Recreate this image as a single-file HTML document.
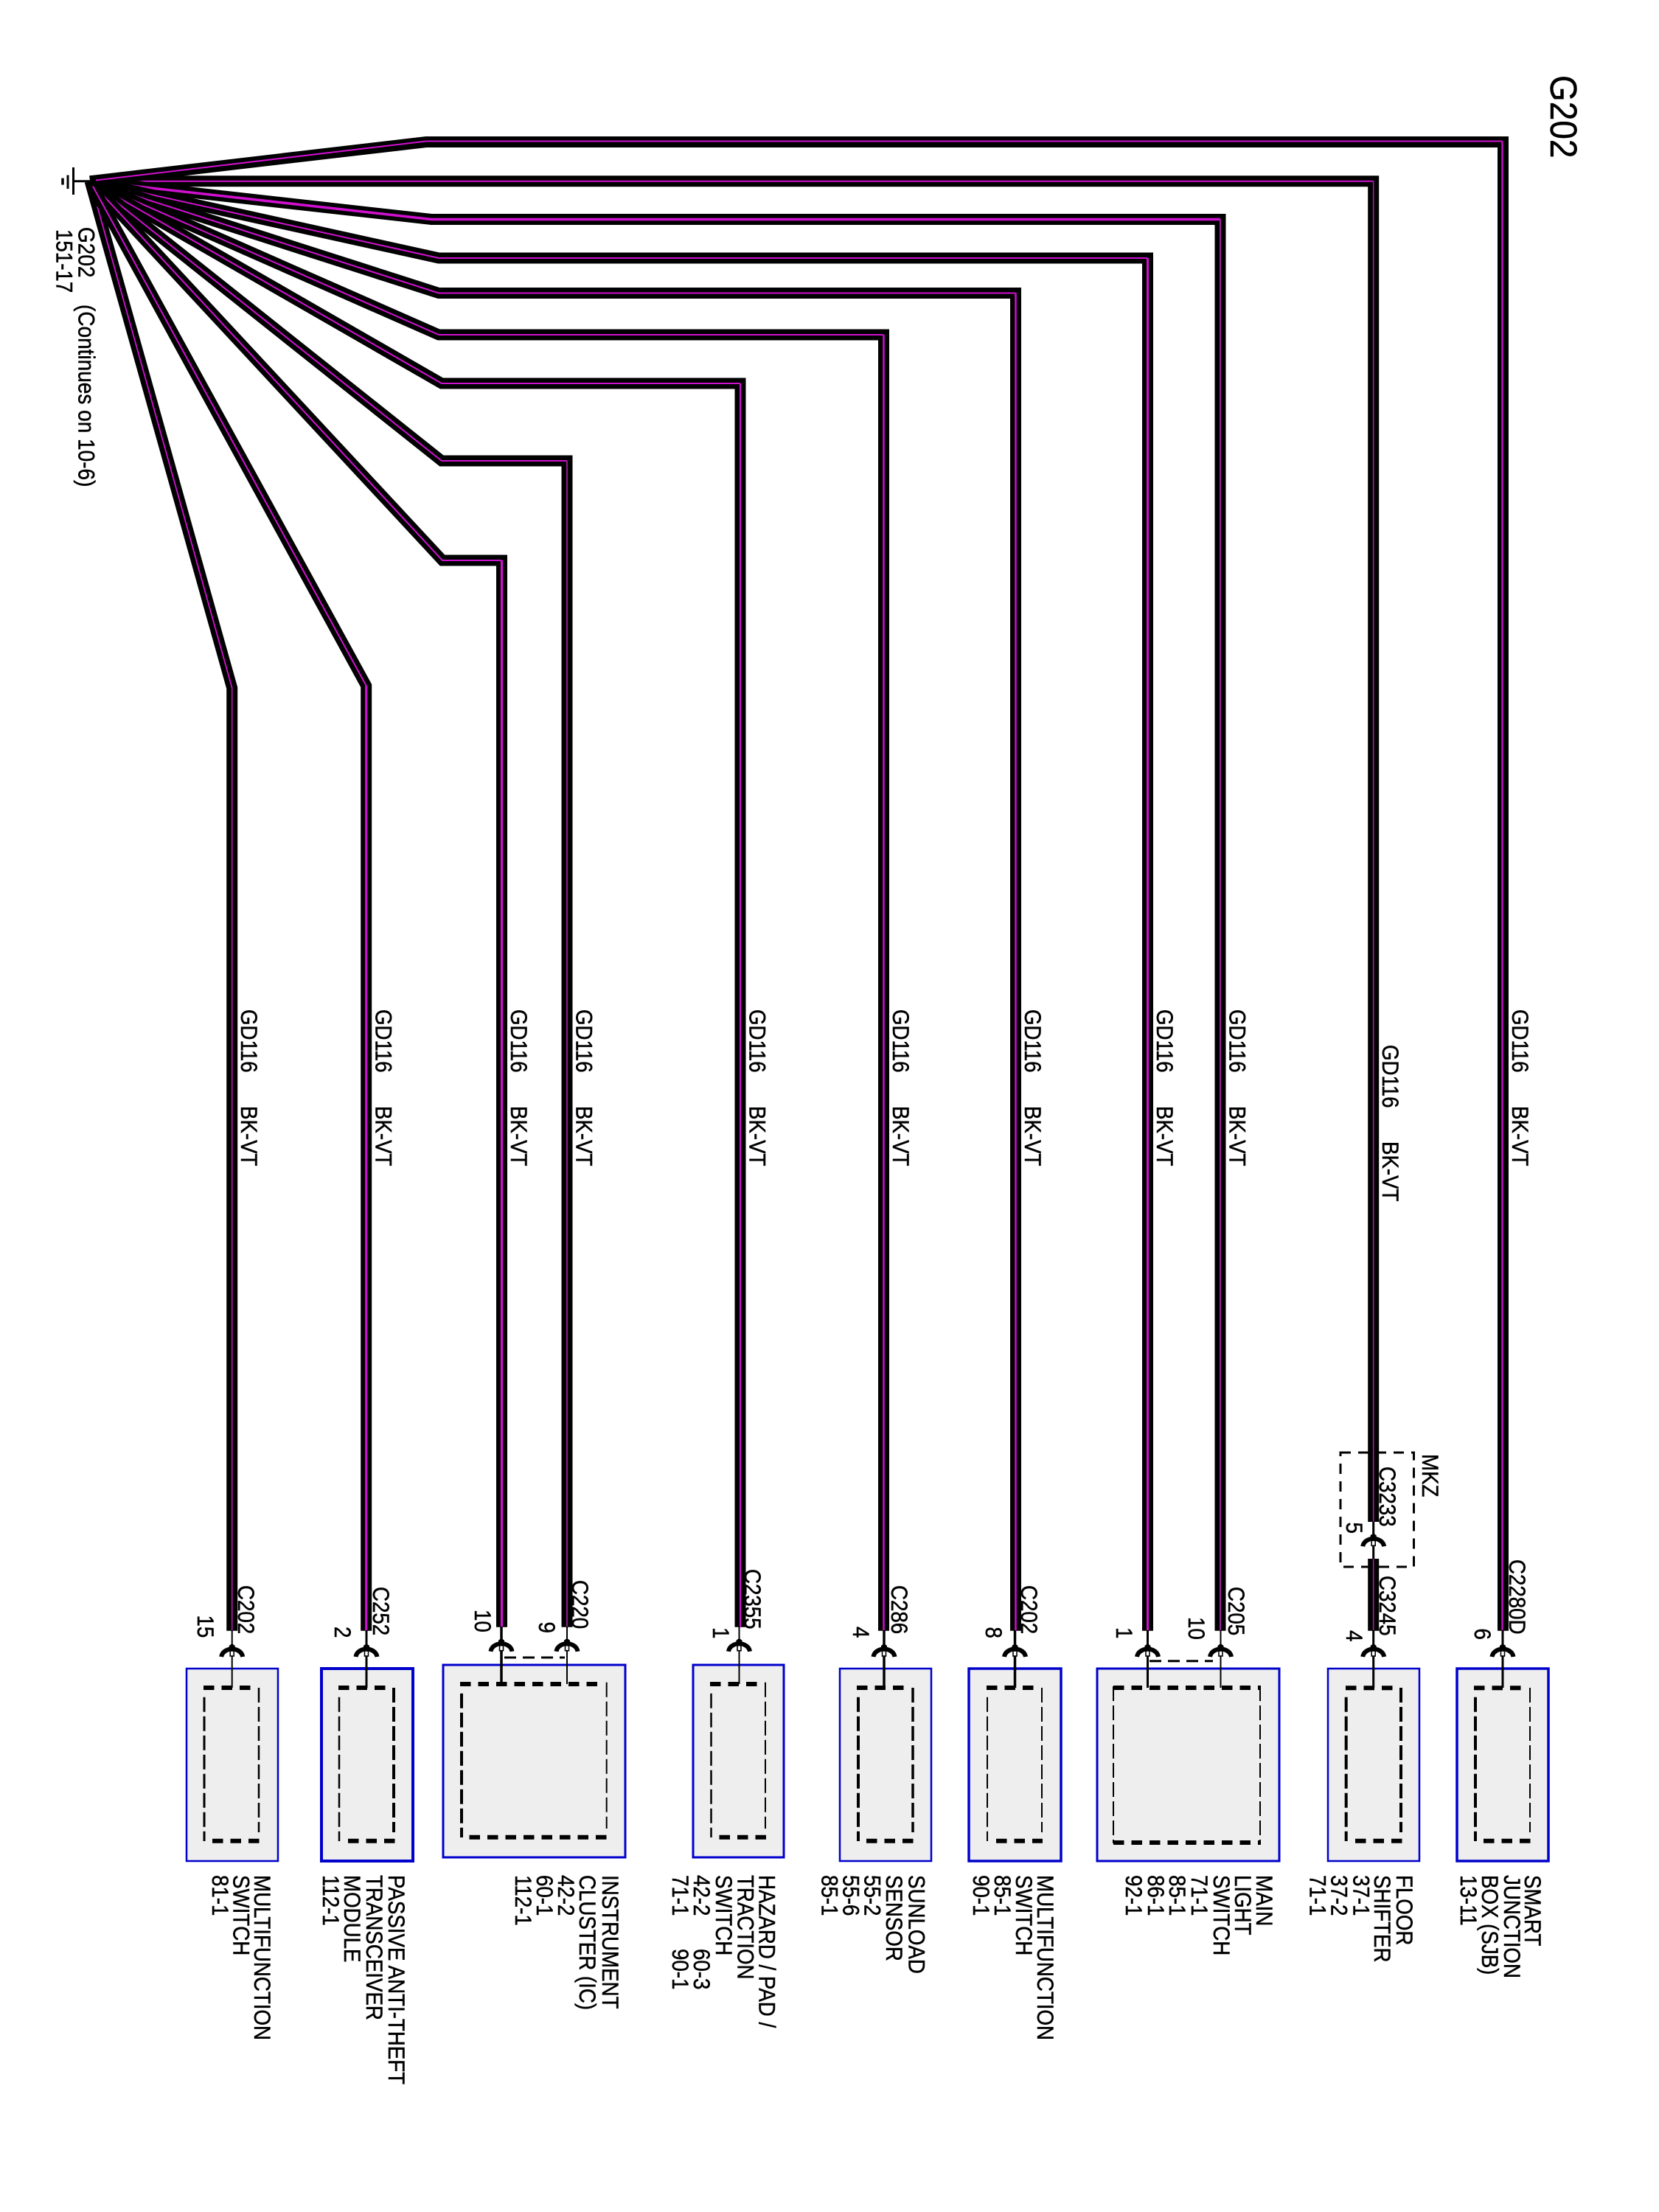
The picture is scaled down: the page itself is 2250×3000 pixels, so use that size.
<!DOCTYPE html>
<html>
<head>
<meta charset="utf-8">
<style>
html,body{margin:0;padding:0;background:#fff;width:2250px;height:3000px;overflow:hidden}
svg{display:block}
text{font-family:"Liberation Sans",Arial,sans-serif;font-size:27.7px;fill:#000;stroke:#000;stroke-width:.45px}
.w{fill:none;stroke:#000;stroke-width:15;stroke-linejoin:miter;stroke-miterlimit:10}
.m{fill:none;stroke:#d010d0;stroke-linejoin:miter;stroke-miterlimit:10}
.b{fill:#eee;stroke:#0000cc}
.h{stroke:#000;stroke-width:6;stroke-dasharray:14.5 10;fill:none}
.v{stroke:#000;stroke-dasharray:20 6;fill:none}
.l{stroke:#000;fill:none}
.d{stroke:#000;stroke-width:3;stroke-dasharray:16 9;fill:none}
</style>
</head>
<body>
<svg width="2250" height="3000" viewBox="0 0 2250 3000" xmlns="http://www.w3.org/2000/svg">
<defs>
<g id="sym">
<path d="M-4 3L0 0L4 3V10H-4Z" fill="#000"/>
<path d="M-14.5 18Q-13 9 0 7Q13 9 14.5 18" fill="none" stroke="#000" stroke-width="6"/>
<rect x="-2.5" y="10" width="5" height="7" fill="#fff" stroke="#000" stroke-width="1.6"/>
</g>
</defs>

<!-- ground -->
<path d="M99 245.7H122" stroke="#000" stroke-width="3" fill="none"/>
<path d="M99.5 227V264" stroke="#000" stroke-width="3" fill="none"/>
<path d="M92 237.5V256" stroke="#000" stroke-width="3" fill="none"/>
<path d="M85 241.6V250.6" stroke="#000" stroke-width="3.5" fill="none"/>

<!-- boxes -->
<rect class="b" x="253" y="2263" width="124" height="261" stroke-width="2.5"/>
<rect class="b" x="436" y="2263" width="124" height="261" stroke-width="4"/>
<rect class="b" x="601" y="2258" width="247" height="261" stroke-width="3"/>
<rect class="b" x="940" y="2258" width="123" height="261" stroke-width="3"/>
<rect class="b" x="1139" y="2263" width="124" height="261" stroke-width="2.5"/>
<rect class="b" x="1314" y="2263" width="125" height="261" stroke-width="3.5"/>
<rect class="b" x="1488" y="2263" width="247" height="261" stroke-width="3"/>
<rect class="b" x="1801" y="2263" width="124" height="261" stroke-width="2.5"/>
<rect class="b" x="1976" y="2263" width="124" height="261" stroke-width="3.5"/>

<!-- inner dashed rects -->
<path class="h" d="M276 2289H340M288 2496.7H352"/>
<path class="v" stroke-width="3" d="M277 2301.7V2497"/><path class="v" stroke-width="2.5" d="M351 2289V2485"/>

<path class="h" d="M459 2289H524M472 2496.7H536"/>
<path class="v" stroke-width="2.5" d="M460 2301.7V2497"/><path class="v" stroke-width="4" d="M534 2289V2485"/>

<path class="h" d="M624 2284H812M636.5 2491.7H824"/>
<path class="v" stroke-width="4" d="M626 2296.7V2492"/><path class="v" stroke-width="2" d="M822.7 2281.7V2480"/>

<path class="h" d="M963 2284H1027M975.5 2491.7H1039.5"/>
<path class="v" stroke-width="2.5" d="M964.5 2296.7V2492"/><path class="v" stroke-width="2" d="M1038 2281.7V2480"/>

<path class="h" d="M1162 2289H1227M1175 2496.7H1239"/>
<path class="v" stroke-width="4" d="M1164 2301.7V2497"/><path class="v" stroke-width="3.5" d="M1238 2289V2485"/>

<path class="h" d="M1338 2289H1403M1351 2496.7H1414"/>
<path class="v" stroke-width="2" d="M1339 2301.7V2497"/><path class="v" stroke-width="2" d="M1413 2289V2485"/>

<path class="h" d="M1510 2289H1710M1510 2499H1710"/>
<path class="v" stroke-width="2" d="M1510 2287V2500"/><path class="v" stroke-width="2" d="M1709 2287V2500"/>

<path class="h" d="M1825 2289.3H1889M1838 2496.7H1902"/>
<path class="v" stroke-width="4" d="M1825.7 2301.7V2497"/><path class="v" stroke-width="4" d="M1900 2289V2485"/>

<path class="h" d="M1999 2289.3H2063M2012 2496.7H2076"/>
<path class="v" stroke-width="4" d="M2001 2301.7V2497"/><path class="v" stroke-width="2" d="M2075 2289V2485"/>

<!-- wires, in stacking order -->
<path class="w" d="M122 245.7H1862.7V2064"/>
<path class="m" stroke-width="2" d="M189 245.7H1862.7"/><path class="m" stroke-width="1.6" style="stroke:#a01fa0" d="M1862.7 245.7V2064"/>
<path class="w" d="M1862.7 2114V2211.7"/><path class="m" stroke-width="1.6" style="stroke:#a01fa0" d="M1862.7 2114V2211.7"/>

<path class="w" d="M122 245.7L585 297.5H1655V2211.7"/>
<path class="m" stroke-width="3.5" d="M178 252L585 297.5H1655"/><path class="m" stroke-width="2" style="stroke:#a01fa0" d="M1655 297.5V2211.7"/>

<path class="w" d="M122 245.7L595 350H1556.5V2211.7"/>
<path class="m" stroke-width="2" d="M160 254L595 350H1556.5"/><path class="m" stroke-width="3" d="M1556.5 350V2211.7"/>

<path class="w" d="M122 245.7L595 397.5H1377.5V2211.7"/>
<path class="m" stroke-width="2" d="M135 250L595 397.5H1377.5"/><path class="m" stroke-width="2.5" d="M1377.5 397.5V2211.7"/>

<path class="w" d="M122 245.7L314.7 933V2211.7"/>
<path class="m" stroke-width="1.8" d="M132 280L314.7 933"/><path class="m" stroke-width="1.8" style="stroke:#a01fa0" d="M314.7 933V2211.7"/>

<path class="w" d="M122 245.7L595 454H1198.5V2211.7"/>
<path class="m" stroke-width="2" d="M125 247L595 454H1198.5"/><path class="m" stroke-width="2.5" d="M1198.5 454V2211.7"/>

<path class="w" d="M122 245.7L599 520H1004V2206.7"/>
<path class="m" stroke-width="2" d="M125 247.5L599 520H1004"/><path class="m" stroke-width="2.2" d="M1004 520V2206.7"/>

<path class="w" d="M122 245.7L599 625H769V2206.7"/>
<path class="m" stroke-width="2" d="M125 248L599 625H769"/><path class="m" stroke-width="1.8" style="stroke:#a01fa0" d="M769 625V2206.7"/>

<path class="w" d="M122 245.7L600 760H680.5V2206.7"/>
<path class="m" stroke-width="2" d="M125 249L600 760H680.5"/><path class="m" stroke-width="3.2" d="M680.5 760V2206.7"/>

<path class="w" d="M122 245.7L496.7 930V2211.7"/>
<path class="m" stroke-width="2" d="M125 251L496.7 930"/><path class="m" stroke-width="3.2" d="M496.7 930V2211.7"/>

<path class="w" d="M122 245.7L578 192.5H2038.5V2211.7"/>
<path class="m" stroke-width="2" d="M130 244.5L578 191.5H2037.5"/><path class="m" stroke-width="2.2" d="M2037.5 191.5V2211.7"/>

<!-- connector lines -->
<path class="l" stroke-width="2" d="M314.7 2211V2289"/>
<path class="l" stroke-width="3" d="M497 2211V2289"/>
<path class="l" stroke-width="3.5" d="M680 2206V2284"/>
<path class="l" stroke-width="2" d="M769 2206V2284"/>
<path class="l" stroke-width="2" d="M1002.5 2206V2284"/>
<path class="l" stroke-width="3.5" d="M1199 2211V2289"/>
<path class="l" stroke-width="3.5" d="M1376.5 2211V2289"/>
<path class="l" stroke-width="3" d="M1556.5 2211V2289"/>
<path class="l" stroke-width="2" d="M1655.5 2211V2289"/>
<path class="l" stroke-width="3" d="M1862.7 2064V2114M1862.7 2211V2289"/>
<path class="l" stroke-width="3" d="M2038 2211V2289"/>

<!-- jumper dashes -->
<path class="d" d="M684 2248H766"/>
<path class="d" d="M1559 2252.7H1645"/>

<!-- connector symbols -->
<use href="#sym" x="314.7" y="2229"/>
<use href="#sym" x="497" y="2229"/>
<use href="#sym" x="680" y="2221.7"/>
<use href="#sym" x="769" y="2221.7"/>
<use href="#sym" x="1002.5" y="2221.7"/>
<use href="#sym" x="1199" y="2229"/>
<use href="#sym" x="1376.5" y="2229"/>
<use href="#sym" x="1556.5" y="2229"/>
<use href="#sym" x="1655.5" y="2229"/>
<use href="#sym" x="1862.7" y="2079.3"/>
<use href="#sym" x="1862.7" y="2229"/>
<use href="#sym" x="2038" y="2229"/>

<!-- MKZ dashed -->
<rect x="1818" y="1970" width="99.5" height="155" fill="none" stroke="#000" stroke-width="3" stroke-dasharray="14 10"/>

<!-- title and ground text -->
<text transform="matrix(0 1 -1.1 0 2103 102)" style="font-size:46px">G202</text>
<text transform="matrix(0 1 -1.14 0 106.5 308)" style="font-size:28px">G202</text>
<text transform="matrix(0 1 -1.14 0 106.5 413)" style="font-size:28px">(Continues on 10-6)</text>
<text transform="matrix(0 1 -1.14 0 76.5 311)">151-17</text>
<text transform="matrix(0 1 -1.14 0 1929 1972)">MKZ</text>

<!-- wire labels -->
<text transform="matrix(0 1 -1.14 0 327 1369)">GD116</text><text transform="matrix(0 1 -1.14 0 327 1500)">BK-VT</text>
<text transform="matrix(0 1 -1.14 0 509.5 1369)">GD116</text><text transform="matrix(0 1 -1.14 0 509.5 1500)">BK-VT</text>
<text transform="matrix(0 1 -1.14 0 693 1369)">GD116</text><text transform="matrix(0 1 -1.14 0 693 1500)">BK-VT</text>
<text transform="matrix(0 1 -1.14 0 781.5 1369)">GD116</text><text transform="matrix(0 1 -1.14 0 781.5 1500)">BK-VT</text>
<text transform="matrix(0 1 -1.14 0 1016.5 1369)">GD116</text><text transform="matrix(0 1 -1.14 0 1016.5 1500)">BK-VT</text>
<text transform="matrix(0 1 -1.14 0 1211 1369)">GD116</text><text transform="matrix(0 1 -1.14 0 1211 1500)">BK-VT</text>
<text transform="matrix(0 1 -1.14 0 1390 1369)">GD116</text><text transform="matrix(0 1 -1.14 0 1390 1500)">BK-VT</text>
<text transform="matrix(0 1 -1.14 0 1569 1369)">GD116</text><text transform="matrix(0 1 -1.14 0 1569 1500)">BK-VT</text>
<text transform="matrix(0 1 -1.14 0 1667.5 1369)">GD116</text><text transform="matrix(0 1 -1.14 0 1667.5 1500)">BK-VT</text>
<text transform="matrix(0 1 -1.14 0 1875 1417)">GD116</text><text transform="matrix(0 1 -1.14 0 1875 1548)">BK-VT</text>
<text transform="matrix(0 1 -1.14 0 2051 1369)">GD116</text><text transform="matrix(0 1 -1.14 0 2051 1500)">BK-VT</text>

<!-- connector labels -->
<text transform="matrix(0 1 -1.14 0 323 2150)">C202</text>
<text transform="matrix(0 1 -1.14 0 268 2190.5)">15</text>
<text transform="matrix(0 1 -1.14 0 506 2152)">C252</text>
<text transform="matrix(0 1 -1.14 0 454 2206)">2</text>
<text transform="matrix(0 1 -1.14 0 644 2183)">10</text>
<text transform="matrix(0 1 -1.14 0 776 2143)">C220</text>
<text transform="matrix(0 1 -1.14 0 731 2199.5)">9</text>
<text transform="matrix(0 1 -1.14 0 1010 2128)">C2355</text>
<text transform="matrix(0 1 -1.14 0 967 2207)">1</text>
<text transform="matrix(0 1 -1.14 0 1209 2150)">C286</text>
<text transform="matrix(0 1 -1.14 0 1157 2206)">4</text>
<text transform="matrix(0 1 -1.14 0 1385 2150)">C202</text>
<text transform="matrix(0 1 -1.14 0 1337 2206.5)">8</text>
<text transform="matrix(0 1 -1.14 0 1514 2207)">1</text>
<text transform="matrix(0 1 -1.14 0 1612 2193)">10</text>
<text transform="matrix(0 1 -1.14 0 1666 2152)">C205</text>
<text transform="matrix(0 1 -1.14 0 1871 1989)">C3233</text>
<text transform="matrix(0 1 -1.14 0 1826 2064.5)">5</text>
<text transform="matrix(0 1 -1.14 0 1871 2137)">C3245</text>
<text transform="matrix(0 1 -1.14 0 1826 2211)">4</text>
<text transform="matrix(0 1 -1.14 0 2047 2115)">C2280D</text>
<text transform="matrix(0 1 -1.14 0 2000 2208.5)">6</text>

<!-- component labels -->
<text transform="matrix(0 1 -1.14 0 345 2543)">MULTIFUNCTION</text>
<text transform="matrix(0 1 -1.14 0 316.5 2543)">SWITCH</text>
<text transform="matrix(0 1 -1.14 0 288 2543)">81-1</text>

<text transform="matrix(0 1 -1.14 0 527 2543)">PASSIVE ANTI-THEFT</text>
<text transform="matrix(0 1 -1.14 0 497 2543)">TRANSCEIVER</text>
<text transform="matrix(0 1 -1.14 0 467 2543)">MODULE</text>
<text transform="matrix(0 1 -1.14 0 438 2543)">112-1</text>

<text transform="matrix(0 1 -1.14 0 817 2543)">INSTRUMENT</text>
<text transform="matrix(0 1 -1.14 0 786 2543)">CLUSTER (IC)</text>
<text transform="matrix(0 1 -1.14 0 757 2543)">42-2</text>
<text transform="matrix(0 1 -1.14 0 728 2543)">60-1</text>
<text transform="matrix(0 1 -1.14 0 699 2543)">112-1</text>

<text transform="matrix(0 1 -1.14 0 1029.5 2543)">HAZARD / PAD /</text>
<text transform="matrix(0 1 -1.14 0 1000.5 2543)">TRACTION</text>
<text transform="matrix(0 1 -1.14 0 971 2543)">SWITCH</text>
<text transform="matrix(0 1 -1.14 0 941 2543)">42-2</text>
<text transform="matrix(0 1 -1.14 0 941 2643)">60-3</text>
<text transform="matrix(0 1 -1.14 0 912 2543)">71-1</text>
<text transform="matrix(0 1 -1.14 0 912 2643)">90-1</text>

<text transform="matrix(0 1 -1.14 0 1232.5 2543)">SUNLOAD</text>
<text transform="matrix(0 1 -1.14 0 1202 2543)">SENSOR</text>
<text transform="matrix(0 1 -1.14 0 1172.5 2543)">55-2</text>
<text transform="matrix(0 1 -1.14 0 1143.5 2543)">55-6</text>
<text transform="matrix(0 1 -1.14 0 1114.5 2543)">85-1</text>

<text transform="matrix(0 1 -1.14 0 1407 2543)">MULTIFUNCTION</text>
<text transform="matrix(0 1 -1.14 0 1378 2543)">SWITCH</text>
<text transform="matrix(0 1 -1.14 0 1349 2543)">85-1</text>
<text transform="matrix(0 1 -1.14 0 1320 2543)">90-1</text>

<text transform="matrix(0 1 -1.14 0 1704 2543)">MAIN</text>
<text transform="matrix(0 1 -1.14 0 1675 2543)">LIGHT</text>
<text transform="matrix(0 1 -1.14 0 1646 2543)">SWITCH</text>
<text transform="matrix(0 1 -1.14 0 1616 2543)">71-1</text>
<text transform="matrix(0 1 -1.14 0 1586 2543)">85-1</text>
<text transform="matrix(0 1 -1.14 0 1557 2543)">86-1</text>
<text transform="matrix(0 1 -1.14 0 1527 2543)">92-1</text>

<text transform="matrix(0 1 -1.14 0 1894 2543)">FLOOR</text>
<text transform="matrix(0 1 -1.14 0 1864 2543)">SHIFTER</text>
<text transform="matrix(0 1 -1.14 0 1835.5 2543)">37-1</text>
<text transform="matrix(0 1 -1.14 0 1805.5 2543)">37-2</text>
<text transform="matrix(0 1 -1.14 0 1776.5 2543)">71-1</text>

<text transform="matrix(0 1 -1.14 0 2068 2543)">SMART</text>
<text transform="matrix(0 1 -1.14 0 2040 2543)">JUNCTION</text>
<text transform="matrix(0 1 -1.14 0 2010 2543)">BOX (SJB)</text>
<text transform="matrix(0 1 -1.14 0 1981 2543)">13-11</text>
</svg>
</body>
</html>
